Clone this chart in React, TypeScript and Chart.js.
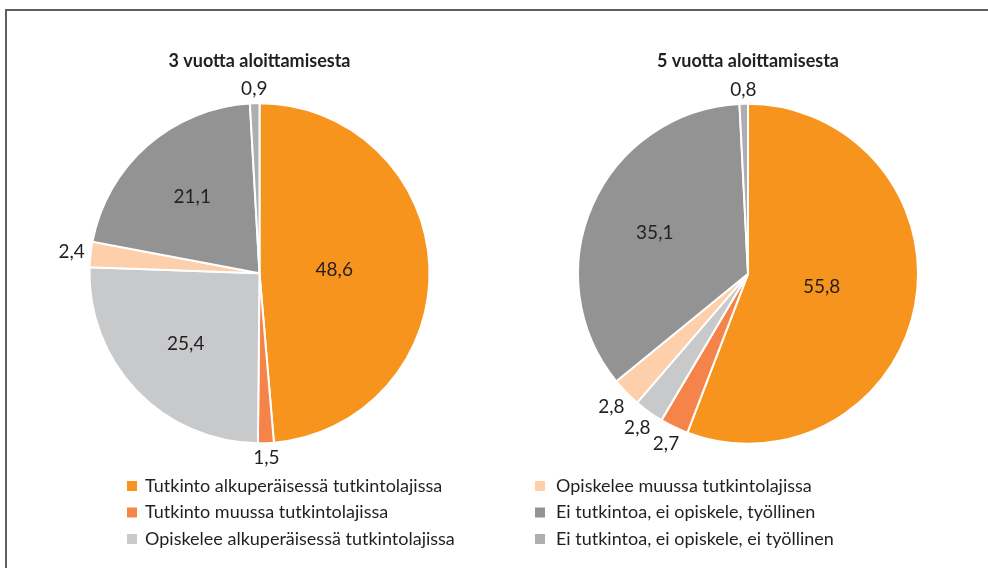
import React, { useEffect, useRef } from 'react';
import { Chart, registerables } from 'chart.js';

Chart.register(...registerables);

const categories = [
  'Tutkinto alkuperäisessä tutkintolajissa',
  'Tutkinto muussa tutkintolajissa',
  'Opiskelee alkuperäisessä tutkintolajissa',
  'Opiskelee muussa tutkintolajissa',
  'Ei tutkintoa, ei opiskele, työllinen',
  'Ei tutkintoa, ei opiskele, ei työllinen',
];
const values3 = [48.6, 1.5, 25.4, 2.4, 21.1, 0.9];
const values5 = [55.8, 2.7, 2.8, 2.8, 35.1, 0.8];
const titles = ['3 vuotta aloittamisesta', '5 vuotta aloittamisesta'];
const colors = ['#F7941D', '#F4844A', '#C8C9CB', '#FDCFAB', '#939393', '#ADAEB2'];

const FONT = 'Lato, "Open Sans", sans-serif';
const TEXT = '#231f20';

const labelPlugin = {
  id: 'sliceLabels',
  afterDatasetsDraw(chart: any) {
    const ctx = chart.ctx;
    const meta = chart.getDatasetMeta(0);
    const data = chart.data.datasets[0].data as number[];
    ctx.save();
    ctx.font = `19px ${FONT}`;
    ctx.fillStyle = TEXT;
    ctx.textAlign = 'center';
    ctx.textBaseline = 'middle';
    meta.data.forEach((arc: any, i: number) => {
      const { x, y, startAngle, endAngle, outerRadius } = arc.getProps(
        ['x', 'y', 'startAngle', 'endAngle', 'outerRadius'],
        true
      );
      const mid = (startAngle + endAngle) / 2;
      const v = data[i];
      const text = v.toFixed(1).replace('.', ',');
      let d: number;
      if (v >= 40) {
        d = outerRadius * 0.44;
      } else if (v >= 10) {
        d = outerRadius * 0.6;
      } else {
        const hw = ctx.measureText(text).width / 2;
        d = outerRadius + 5 + Math.abs(Math.cos(mid)) * hw + Math.abs(Math.sin(mid)) * 9;
      }
      ctx.fillText(text, x + Math.cos(mid) * d, y + Math.sin(mid) * d);
    });
    ctx.restore();
  },
};

const legendPlugin = {
  id: 'colLegend',
  afterDraw(chart: any, _args: any, opts: any) {
    const ctx = chart.ctx;
    ctx.save();
    ctx.font = `18px ${FONT}`;
    ctx.textBaseline = 'middle';
    ctx.textAlign = 'left';
    (opts.items as number[]).forEach((idx, row) => {
      const y = opts.y + row * opts.gap;
      ctx.fillStyle = colors[idx];
      ctx.fillRect(opts.x, y - 5, 10, 10);
      ctx.fillStyle = TEXT;
      ctx.fillText(categories[idx], opts.textX, y);
    });
    ctx.restore();
  },
};

function PieChart(props: {
  values: number[];
  title: string;
  padLeft: number;
  padBottom: number;
  legend: { items: number[]; x: number; textX: number; y: number; gap: number };
}) {
  const ref = useRef<HTMLCanvasElement>(null);
  useEffect(() => {
    if (!ref.current) return;
    const chart = new Chart(ref.current, {
      type: 'pie',
      data: {
        labels: categories,
        datasets: [
          {
            data: props.values,
            backgroundColor: colors,
            borderColor: '#ffffff',
            borderWidth: 2,
          },
        ],
      },
      options: {
        responsive: false,
        animation: false,
        radius: 170,
        layout: { padding: { left: props.padLeft, right: 0, top: 0, bottom: props.padBottom } },
        plugins: {
          legend: { display: false },
          tooltip: { enabled: false },
          title: {
            display: true,
            text: props.title,
            color: TEXT,
            font: { family: FONT, size: 18, weight: 'bold' },
            padding: { top: 50, bottom: 0 },
          },
          colLegend: props.legend,
        } as any,
      } as any,
      plugins: [labelPlugin, legendPlugin],
    });
    return () => chart.destroy();
  }, []);
  return <canvas ref={ref} width={494} height={568} style={{ width: 494, height: 568, display: 'block' }} />;
}

export default function App() {
  return (
    <div style={{ position: 'absolute', left: 0, top: 0, width: 988, height: 568, background: '#fff', overflow: 'hidden' }}>
      <div style={{ position: 'absolute', left: 0, top: 0, display: 'flex' }}>
        <PieChart
          values={values3}
          title={titles[0]}
          padLeft={25}
          padBottom={93}
          legend={{ items: [0, 1, 2], x: 127, textX: 145, y: 486, gap: 26.5 }}
        />
        <PieChart
          values={values5}
          title={titles[1]}
          padLeft={14}
          padBottom={92}
          legend={{ items: [3, 4, 5], x: 41, textX: 62, y: 486, gap: 26.5 }}
        />
      </div>
      <div
        style={{
          position: 'absolute',
          left: 5,
          top: 9,
          width: 990,
          height: 570,
          borderTop: '2px solid #5e5e5e',
          borderLeft: '2px solid #5e5e5e',
        }}
      />
    </div>
  );
}
